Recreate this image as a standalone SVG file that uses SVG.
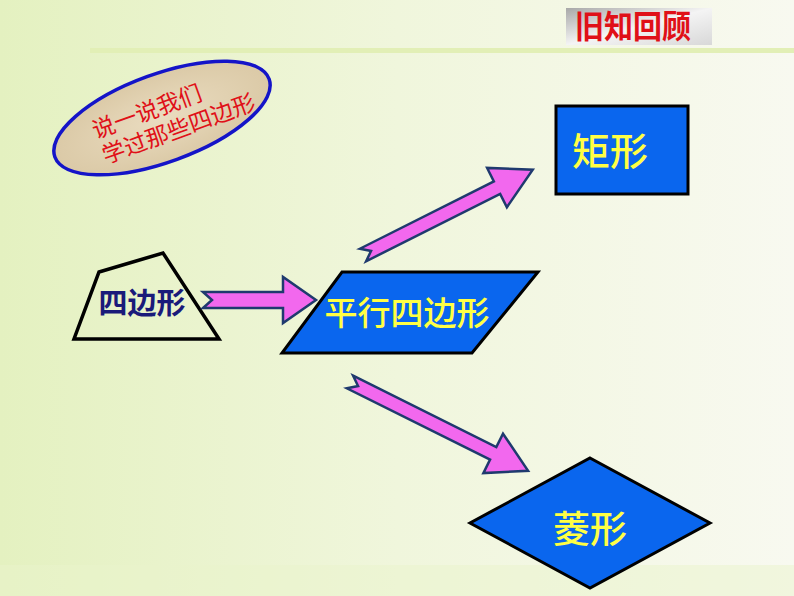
<svg xmlns="http://www.w3.org/2000/svg" width="794" height="596" viewBox="0 0 794 596">
<defs>
<linearGradient id="bg" x1="0" y1="0" x2="1" y2="0">
<stop offset="0" stop-color="#e4f1c0"/>
<stop offset="0.5" stop-color="#f0f6dc"/>
<stop offset="1" stop-color="#f8f9f0"/>
</linearGradient>
<linearGradient id="hdr" x1="0" y1="0" x2="1" y2="1">
<stop offset="0" stop-color="#a8a8a8"/>
<stop offset="0.5" stop-color="#f4f4f4"/>
<stop offset="1" stop-color="#d8d8d8"/>
</linearGradient>
<radialGradient id="tan" cx="0.5" cy="0.5" r="0.6">
<stop offset="0" stop-color="#eadcc0"/>
<stop offset="1" stop-color="#d8c6a2"/>
</radialGradient>
<style>
.arrow{fill:#f268ee;stroke:#1f3a6e;stroke-width:2.5;stroke-linejoin:miter}
.shape{fill:#0a66ee;stroke:#000;stroke-width:3}
.yl{font-family:"Noto Sans CJK SC",sans-serif;fill:#ffff44;text-anchor:middle;font-weight:500}
.rd{font-family:"Noto Sans CJK SC",sans-serif;fill:#e01018;text-anchor:middle;font-size:23px}
</style>
</defs>
<rect width="794" height="596" fill="url(#bg)"/>
<rect x="90" y="48" width="704" height="5" fill="#e2efb6"/>
<rect x="0" y="565" width="794" height="31" fill="#eaf3cc" opacity="0.5"/>
<g id="header">
<rect x="566" y="8" width="146" height="37" fill="url(#hdr)"/>
<text x="633" y="37" font-family="'Noto Sans CJK SC',sans-serif" font-size="29" font-weight="bold" fill="#e01018" text-anchor="middle" transform="translate(633,26) scale(1,1.1) translate(-633,-26)">旧知回顾</text>
</g>
<g id="bubble" transform="translate(162,118) rotate(-20)">
<ellipse cx="0" cy="0" rx="114" ry="44" fill="url(#tan)" stroke="#1414c8" stroke-width="3.5"/>
<text class="rd" x="-12" y="-3">说一说我们</text>
<text class="rd" x="12" y="24">学过那些四边形</text>
</g>
<g id="quad">
<polygon points="99,272 163,253 219,339 74,339" fill="none" stroke="#000" stroke-width="3.5" stroke-linejoin="miter"/>
<text x="142" y="314" font-family="'Noto Sans CJK SC',sans-serif" font-size="29" font-weight="bold" fill="#1a1a7a" text-anchor="middle">四边形</text>
</g>
<g id="parallelogram">
<polygon class="shape" points="342,272 538,272 472,353 282,353"/>
<text class="yl" x="407" y="325" font-size="33">平行四边形</text>
</g>
<g id="rect">
<rect class="shape" x="556" y="106" width="132" height="88"/>
<text class="yl" x="610" y="165" font-size="38">矩形</text>
</g>
<g id="rhombus">
<polygon class="shape" points="590,458 710,523 590,588 470,523"/>
<text class="yl" x="590" y="543" font-size="37">菱形</text>
</g>
<g id="connectors">
<polygon class="arrow" transform="translate(203,300)" points="0,-8 80,-8 80,-23 113,0 80,23 80,8 0,8 9,0"/>
<polygon class="arrow" transform="translate(363,255) rotate(-26.7)" points="0,-7 150,-7 150,-22 190,0 150,22 150,7 0,7 9,0"/>
<polygon class="arrow" transform="translate(350,382) rotate(26.5)" points="0,-7 160,-7 160,-22 199,0 160,22 160,7 0,7 9,0"/>
</g>
</svg>
